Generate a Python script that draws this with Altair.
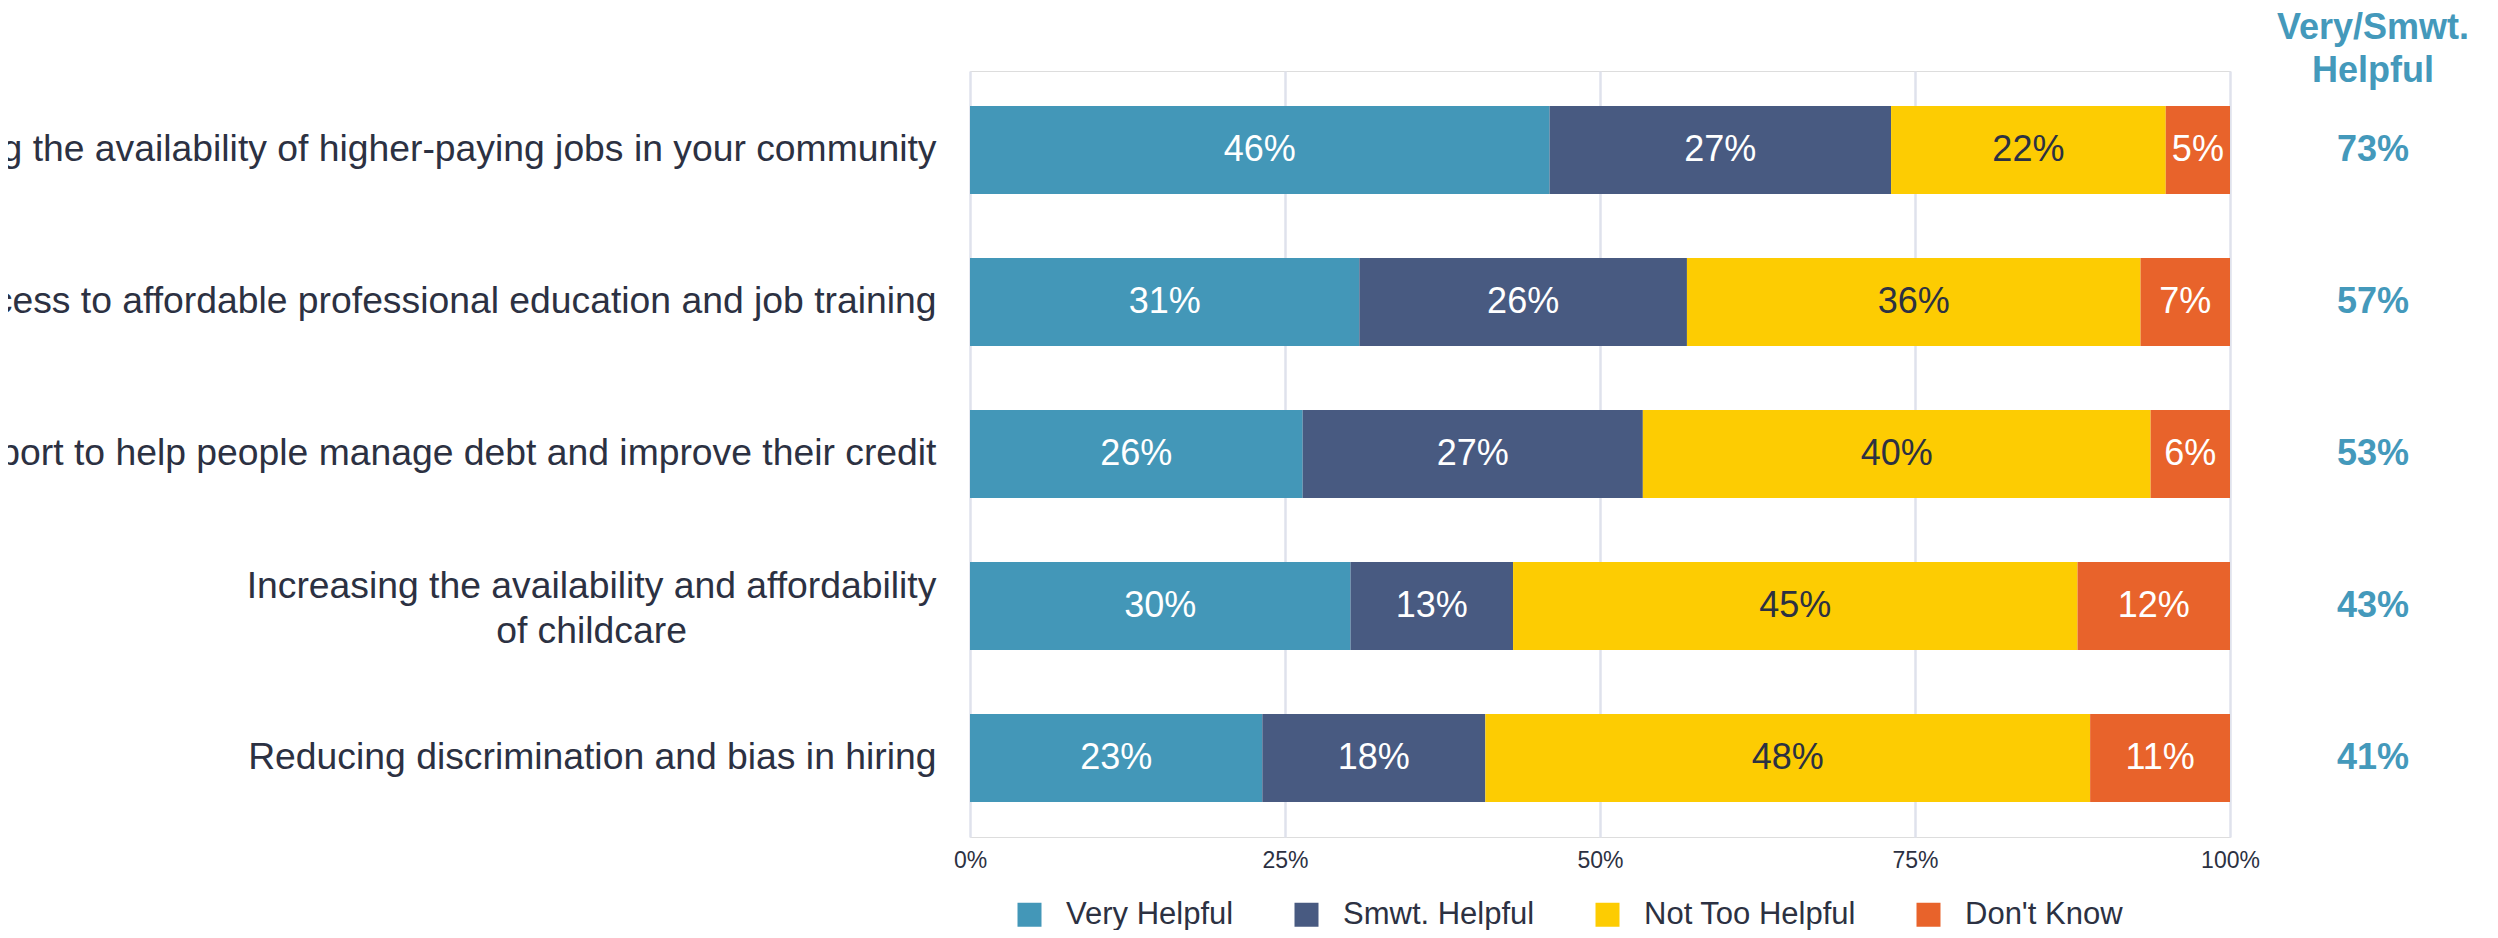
import altair as alt
import pandas as pd

# ---- data ----
items = [
    "Increasing the availability of higher-paying jobs in your community",
    "Increasing access to affordable professional education and job training",
    "Providing support to help people manage debt and improve their credit",
    "Increasing the availability and affordability|of childcare",
    "Reducing discrimination and bias in hiring",
]
responses = ["Very Helpful", "Smwt. Helpful", "Not Too Helpful", "Don't Know"]
very_helpful = [46.0, 30.9, 26.4, 30.2, 23.2]
smwt_helpful = [27.1, 26.0, 27.0, 12.9, 17.7]
not_too_helpful = [21.8, 36.0, 40.3, 44.8, 48.0]
dont_know = [5.1, 7.1, 6.3, 12.1, 11.1]
very_smwt_total = [73, 57, 53, 43, 41]
header_text = ["Very/Smwt.\nHelpful"]
x_ticks = [0, 25, 50, 75, 100]

colors = ["#4397b8", "#485a81", "#fdcc02", "#e8632b"]
dark = "#2c3142"
teal = "#4499bb"
FONT = "Liberation Sans"

series = [very_helpful, smwt_helpful, not_too_helpful, dont_know]
rows = []
for r_i, (resp, vals) in enumerate(zip(responses, series)):
    for item, v in zip(items, vals):
        rows.append({"item": item, "resp": resp, "order": r_i, "value": v})
df = pd.DataFrame(rows)
tot_df = pd.DataFrame({"item": items, "total": very_smwt_total})
head_df = pd.DataFrame({"h": header_text})

multi_test = "indexof(datum.value, '|') >= 0"

y_enc = alt.Y(
    "item:N",
    sort=items,
    title=None,
    scale=alt.Scale(paddingInner=0.421, paddingOuter=0.23),
    axis=alt.Axis(
        domain=False,
        ticks=False,
        grid=False,
        labelExpr="split(datum.label, '|')",
        labelFontSize=37.3,
        labelFont=FONT,
        labelColor=dark,
        labelLimit=2000,
        labelLineHeight=45,
        labelAlign={"condition": {"test": multi_test, "value": "center"}, "value": "right"},
        labelPadding={"condition": {"test": multi_test, "value": 379}, "value": 34},
        labelOffset={"condition": {"test": multi_test, "value": -19}, "value": 0},
    ),
)

base = alt.Chart(df).transform_stack(
    stack="value",
    groupby=["item"],
    as_=["x0", "x1"],
    sort=[alt.SortField("order", "ascending")],
)

bars = base.mark_bar().encode(
    y=y_enc,
    x=alt.X(
        "x0:Q",
        title=None,
        scale=alt.Scale(domain=[0, 100], nice=False, zero=True),
        axis=alt.Axis(
            values=x_ticks,
            labelExpr="datum.value + '%'",
            domain=False,
            ticks=False,
            grid=True,
            gridColor="#dfe2ec",
            gridWidth=2.5,
            labelFontSize=23,
            labelFont=FONT,
            labelColor=dark,
            labelPadding=12,
            labelFlush=False,
        ),
    ),
    x2="x1:Q",
    color=alt.Color(
        "resp:N",
        scale=alt.Scale(domain=responses, range=colors),
        legend=alt.Legend(
            title=None,
            orient="none",
            direction="horizontal",
            legendX=44,
            legendY=828,
            symbolType="square",
            symbolSize=576,
            symbolStrokeWidth=0,
            symbolOpacity=1,
            labelFontSize=31,
            labelFont=FONT,
            labelColor=dark,
            labelLimit=1000,
            labelOffset=21,
            columnPadding=57,
            padding=0,
        ),
    ),
    order=alt.Order("order:Q"),
)

labels = base.transform_calculate(
    mid="(datum.x0 + datum.x1) / 2",
    lab="format(datum.value, '.0f') + '%'",
).mark_text(fontSize=36, font=FONT).encode(
    y=alt.Y("item:N", sort=items),
    x=alt.X("mid:Q"),
    text="lab:N",
    color=alt.condition(
        "datum.resp == 'Not Too Helpful'", alt.value(dark), alt.value("white")
    ),
)

totals = alt.Chart(tot_df).transform_calculate(
    lab="datum.total + '%'"
).mark_text(fontSize=36, fontWeight="bold", font=FONT, color=teal).encode(
    y=alt.Y("item:N", sort=items),
    x=alt.value(1403),
    text="lab:N",
)

header = alt.Chart(head_df).mark_text(
    fontSize=36, fontWeight="bold", font=FONT, color=teal, lineBreak="\n", lineHeight=43
).encode(
    x=alt.value(1403),
    y=alt.value(-43),
    text="h:N",
)

chart = alt.layer(bars, labels, totals, header).properties(
    width=1260,
    height=766,
    autosize=alt.AutoSizeParams(type="none"),
    padding={"left": 962, "top": 63, "right": 260, "bottom": 93},
).configure_view(strokeWidth=0).configure(font=FONT)

chart.save("out.html", embed_options={"renderer": "svg", "actions": False})
